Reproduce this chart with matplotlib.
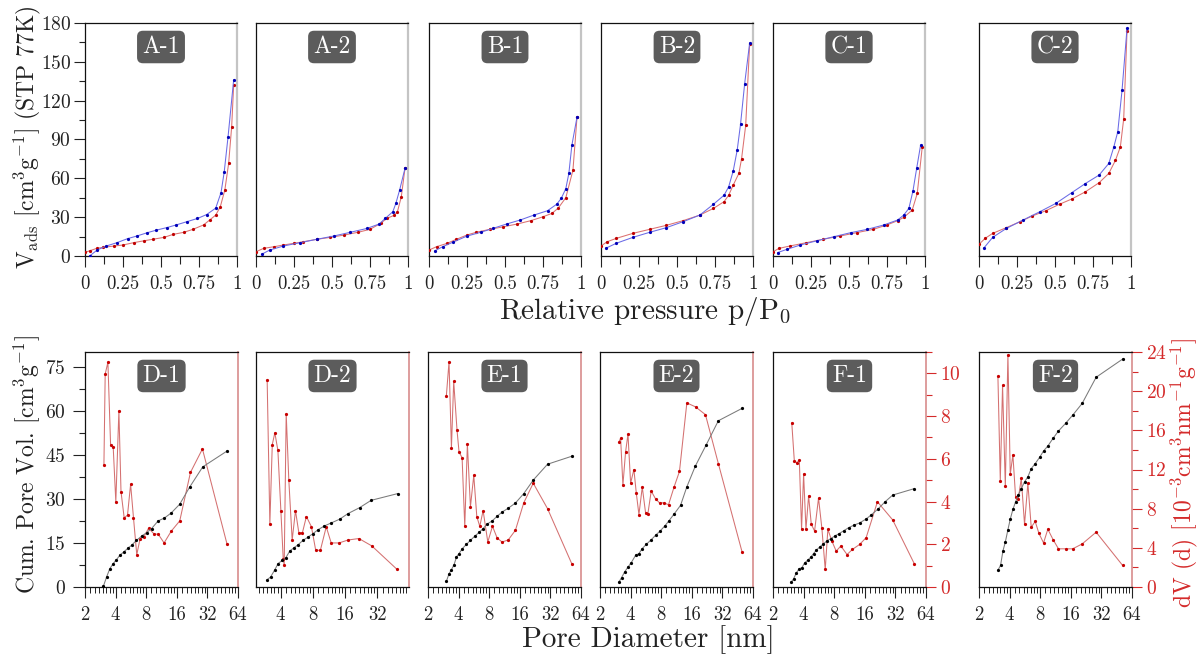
import numpy as np
import matplotlib
matplotlib.use('Agg')
import matplotlib.pyplot as plt
from matplotlib.ticker import MultipleLocator, FixedLocator, FixedFormatter, NullFormatter

plt.rcParams['font.family'] = ['cmr10', 'DejaVu Serif']
plt.rcParams['mathtext.fontset'] = 'cm'
plt.rcParams['axes.unicode_minus'] = False
plt.rcParams['axes.formatter.use_mathtext'] = True

# ---------------- isotherm data (relative pressure, V_ads) ----------------
panel_top = ['A-1', 'A-2', 'B-1', 'B-2', 'C-1', 'C-2']

A1_ads_p = [0, 0.03, 0.08, 0.12, 0.19, 0.25, 0.32, 0.39, 0.45, 0.52, 0.58, 0.65, 0.71, 0.78, 0.82, 0.86, 0.89, 0.92, 0.945, 0.965, 0.978]
A1_ads_v = [2.8, 4, 6, 6.7, 7.7, 8.5, 10.3, 11.8, 13, 14.4, 16.7, 18.3, 20.6, 24, 27.8, 31.6, 38, 51, 71.5, 100, 132]
A1_des_p = [0.03, 0.08, 0.14, 0.21, 0.28, 0.34, 0.41, 0.47, 0.54, 0.60, 0.67, 0.74, 0.80, 0.86, 0.895, 0.916, 0.941, 0.978]
A1_des_v = [0, 4.6, 7.7, 10.3, 13.4, 15.4, 18, 20, 22, 24, 26.5, 29, 32, 37, 49, 65, 92, 136]

A2_ads_p = [0, 0.05, 0.12, 0.18, 0.25, 0.31, 0.40, 0.49, 0.58, 0.67, 0.75, 0.82, 0.86, 0.91, 0.93, 0.956, 0.98]
A2_ads_v = [3.3, 5.9, 7.2, 8.5, 9.8, 11, 12.9, 14.4, 16.2, 18.3, 20.6, 25.2, 29, 31.5, 34, 45.8, 67.6]
A2_des_p = [0.04, 0.09, 0.18, 0.29, 0.40, 0.51, 0.62, 0.73, 0.81, 0.85, 0.90, 0.92, 0.945, 0.98]
A2_des_v = [1.5, 4.6, 7.7, 10.3, 12.9, 15.4, 18.3, 21.3, 24.7, 29, 34.2, 40.6, 51, 67.6]

B1_ads_p = [0, 0.05, 0.12, 0.18, 0.25, 0.31, 0.40, 0.49, 0.58, 0.67, 0.75, 0.81, 0.85, 0.90, 0.947, 0.974]
B1_ads_v = [4.6, 7.2, 9.8, 12.9, 16.2, 18.3, 20.6, 22.6, 24.7, 27.3, 30.3, 33, 37, 45, 66.3, 107.5]
B1_des_p = [0.04, 0.09, 0.16, 0.25, 0.34, 0.42, 0.51, 0.60, 0.69, 0.78, 0.84, 0.87, 0.90, 0.92, 0.94, 0.974]
B1_des_v = [4.1, 7.2, 10.8, 15.4, 18.3, 21.3, 24.7, 27.8, 31.6, 35, 40, 44.5, 52, 63.8, 85.6, 107.5]

B2_ads_p = [0, 0.04, 0.10, 0.21, 0.32, 0.43, 0.54, 0.65, 0.74, 0.81, 0.84, 0.87, 0.907, 0.925, 0.952, 0.978]
B2_ads_v = [7.7, 11, 13.6, 17.5, 20.6, 23.7, 27.3, 31.6, 36.8, 42, 47, 54.8, 63.8, 75.3, 101, 164]
B2_des_p = [0.03, 0.10, 0.21, 0.32, 0.43, 0.54, 0.65, 0.74, 0.81, 0.84, 0.87, 0.896, 0.918, 0.945, 0.978]
B2_des_v = [5.9, 9.8, 14.4, 18.3, 21.9, 26.5, 31.6, 40, 47, 53.5, 65.8, 81.8, 101.8, 133, 164.6]

C1_ads_p = [0, 0.04, 0.11, 0.22, 0.33, 0.44, 0.55, 0.66, 0.75, 0.82, 0.86, 0.916, 0.949, 0.982]
C1_ads_v = [3.3, 5.9, 7.7, 10.3, 12.9, 15.4, 18, 20.6, 24, 27.3, 29.8, 35.5, 48.3, 84.3]
C1_des_p = [0.03, 0.09, 0.18, 0.29, 0.40, 0.51, 0.62, 0.73, 0.82, 0.86, 0.894, 0.921, 0.945, 0.971]
C1_des_v = [2.6, 5.1, 8.5, 11.8, 14.9, 18, 20.6, 24, 27.8, 31.6, 36.8, 50.4, 67.6, 85.6]

C2_ads_p = [0, 0.04, 0.09, 0.18, 0.27, 0.35, 0.44, 0.53, 0.61, 0.70, 0.79, 0.854, 0.898, 0.93, 0.952, 0.974]
C2_ads_v = [9, 13.6, 17.5, 21.9, 26.5, 30.9, 35, 40, 44, 49.6, 56.6, 63.8, 74, 84.3, 106, 174]
C2_des_p = [0.03, 0.09, 0.18, 0.29, 0.40, 0.505, 0.61, 0.70, 0.79, 0.854, 0.887, 0.913, 0.941, 0.974]
C2_des_v = [5.9, 14.4, 21.3, 27.8, 34.2, 40.6, 48.9, 56, 62.5, 71.5, 84.3, 96, 128, 176]

# ---------------- pore size data (diameter nm, cum. volume, dV) ----------------
panel_bot = ['D-1', 'D-2', 'E-1', 'E-2', 'F-1', 'F-2']

D1_cum_d = [3.03, 3.26, 3.51, 3.79, 4.08, 4.40, 4.83, 5.33, 5.74, 6.42, 7.2, 8.07, 9.04, 10.48, 12.1, 14.1, 17.1, 21.4, 28.8, 50]
D1_cum_v = [0.2, 3.4, 6.25, 8, 9.3, 10.8, 12, 13.3, 14.2, 15.9, 17.3, 18.5, 19.9, 22.5, 23.5, 25.2, 28.2, 34, 40.9, 46.3]
D1_dv_d = [3.07, 3.16, 3.36, 3.57, 3.79, 4.02, 4.31, 4.52, 4.86, 5.24, 5.62, 6.0, 6.46, 6.97, 7.58, 8.44, 9.6, 10.5, 12.0, 14.1, 17.1, 21.8, 28.6, 50]
D1_dv = [8.3, 14.5, 15.3, 9.7, 9.5, 5.8, 12.0, 6.5, 4.7, 4.9, 7.0, 4.7, 2.2, 3.3, 3.4, 4.0, 3.6, 3.6, 3.0, 3.8, 4.5, 7.8, 9.4, 2.9]

D2_cum_d = [3.00, 3.23, 3.54, 3.80, 4.17, 4.49, 4.89, 5.32, 5.84, 6.50, 7.24, 8.06, 8.97, 10.3, 11.9, 14.3, 17.1, 21.9, 28.1, 49.8]
D2_cum_v = [2.5, 3.4, 5.9, 8, 9.1, 10, 12.3, 13.3, 14.4, 15.9, 17, 18.2, 19.5, 20.8, 21.8, 23.1, 25, 27, 29.5, 31.8]
D2_dv_d = [3.00, 3.18, 3.35, 3.54, 3.78, 4.03, 4.24, 4.33, 4.52, 4.78, 5.14, 5.52, 5.93, 6.41, 6.98, 7.78, 8.53, 9.43, 10.7, 11.9, 14.1, 17.1, 21.6, 28.5, 49.1]
D2_dv = [14.1, 4.3, 9.7, 10.5, 9.3, 5.2, 1.9, 1.5, 11.8, 7.3, 3.2, 5.2, 3.7, 3.7, 4.8, 4.1, 2.5, 2.5, 4.1, 3.0, 3.0, 3.2, 3.3, 2.8, 1.2]

E1_cum_d = [3.03, 3.22, 3.40, 3.61, 3.81, 4.04, 4.36, 4.77, 5.23, 5.77, 6.37, 6.97, 7.63, 8.62, 9.58, 10.8, 12.3, 14.5, 17.5, 21.7, 30.0, 51.8]
E1_cum_v = [1.9, 4.5, 5.9, 7.6, 10.2, 11.4, 13.1, 14.5, 15.9, 17.3, 18.6, 19.9, 21.4, 22.6, 24.1, 25.6, 26.8, 28.6, 31.8, 36.4, 41.8, 44.5]
E1_dv_d = [3.03, 3.22, 3.40, 3.58, 3.86, 4.04, 4.33, 4.60, 4.88, 5.23, 5.64, 6.04, 6.46, 6.97, 7.75, 8.62, 9.58, 10.7, 12.3, 14.5, 17.5, 21.7, 30.0, 51.8]
E1_dv = [9.75, 11.5, 7.1, 10.5, 8.0, 6.9, 6.6, 3.1, 7.3, 4.1, 5.7, 3.6, 3.1, 3.9, 2.3, 3.1, 2.5, 2.3, 2.4, 2.9, 4.3, 5.3, 4.0, 1.2]

E2_cum_d = [3.07, 3.26, 3.49, 3.77, 4.06, 4.48, 4.83, 5.21, 5.70, 6.38, 7.04, 7.82, 8.69, 9.51, 10.8, 12.4, 14.3, 17.3, 22.1, 29.2, 49.9]
E2_cum_v = [1.7, 3.2, 5.1, 6.8, 8.3, 10.8, 11.4, 13.1, 14.5, 16.1, 17.6, 19.1, 20.8, 22.5, 25, 27.8, 34.1, 41.1, 48.3, 56.6, 60.8]
E2_dv_d = [3.07, 3.19, 3.36, 3.57, 3.77, 4.0, 4.31, 4.55, 4.83, 5.21, 5.61, 5.92, 6.38, 7.04, 7.70, 8.50, 9.44, 10.7, 12.1, 14.3, 17.4, 21.8, 29.2, 49.9]
E2_dv = [7.4, 7.6, 5.2, 6.9, 7.8, 5.3, 6.0, 4.8, 3.7, 5.1, 3.8, 3.75, 4.9, 4.5, 4.3, 4.3, 4.2, 5.1, 5.9, 9.4, 9.2, 8.8, 6.3, 1.8]

F1_cum_d = [3.03, 3.19, 3.39, 3.63, 3.85, 4.09, 4.38, 4.72, 5.01, 5.33, 5.74, 6.19, 6.78, 7.42, 8.06, 8.96, 9.88, 11.1, 12.4, 14.2, 16.4, 18.3, 21.8, 25.3, 30.1, 49.2]
F1_cum_v = [1.7, 2.8, 4.8, 6.25, 6.6, 8.2, 9.1, 10.2, 11.4, 12.5, 13.6, 14.5, 15.7, 16.5, 17.3, 18.2, 19.1, 20.2, 21, 21.8, 23.1, 24.4, 26.7, 29, 31.3, 33.5]
F1_dv_d = [3.06, 3.24, 3.44, 3.63, 3.82, 4.0, 4.22, 4.48, 4.76, 5.13, 5.61, 6.05, 6.53, 6.93, 7.59, 8.37, 9.30, 10.7, 12.1, 14.2, 16.5, 21.3, 30.1, 49.2]
F1_dv = [7.68, 5.92, 5.81, 5.95, 2.70, 5.29, 2.70, 4.27, 2.94, 2.62, 4.16, 2.75, 0.82, 2.70, 2.15, 1.68, 1.92, 1.52, 1.76, 1.99, 2.31, 3.99, 3.14, 1.08]

F2_cum_d = [3.07, 3.26, 3.44, 3.63, 3.85, 4.06, 4.31, 4.58, 4.87, 5.21, 5.61, 6.05, 6.53, 7.14, 7.88, 8.63, 9.51, 10.7, 12.1, 14.2, 16.7, 20.7, 28.4, 51.8]
F2_cum_v = [5.7, 7.4, 12.3, 15.3, 19.5, 23.1, 26.4, 29, 31.3, 33.5, 35.8, 37.5, 40.3, 42, 44.1, 46.3, 48, 50.6, 53.1, 55.7, 58.5, 62.5, 71.4, 77.6]
F2_dv_d = [3.07, 3.24, 3.41, 3.63, 3.85, 4.06, 4.31, 4.58, 4.87, 5.21, 5.61, 6.05, 6.53, 7.14, 7.76, 8.63, 9.51, 10.7, 12.1, 14.2, 16.7, 20.7, 28.4, 51.8]
F2_dv = [21.5, 10.85, 20.6, 10.3, 23.7, 11.5, 13.5, 9.2, 9.0, 11.1, 6.4, 10.6, 6.1, 6.7, 5.5, 4.5, 5.9, 4.85, 3.9, 3.9, 3.9, 4.4, 5.6, 2.2]

dv_ymax = [16, 16, 12, 12, 11, 24]

x_ticks_top = [0, 0.25, 0.5, 0.75, 1]
x_ticklabels_top = ['0', '0.25', '0.5', '0.75', '1']
x_ticks_bot = [2, 4, 8, 16, 32, 64]

top_series = [
    (A1_ads_p, A1_ads_v, A1_des_p, A1_des_v),
    (A2_ads_p, A2_ads_v, A2_des_p, A2_des_v),
    (B1_ads_p, B1_ads_v, B1_des_p, B1_des_v),
    (B2_ads_p, B2_ads_v, B2_des_p, B2_des_v),
    (C1_ads_p, C1_ads_v, C1_des_p, C1_des_v),
    (C2_ads_p, C2_ads_v, C2_des_p, C2_des_v),
]
bot_series = [
    (D1_cum_d, D1_cum_v, D1_dv_d, D1_dv),
    (D2_cum_d, D2_cum_v, D2_dv_d, D2_dv),
    (E1_cum_d, E1_cum_v, E1_dv_d, E1_dv),
    (E2_cum_d, E2_cum_v, E2_dv_d, E2_dv),
    (F1_cum_d, F1_cum_v, F1_dv_d, F1_dv),
    (F2_cum_d, F2_cum_v, F2_dv_d, F2_dv),
]

# ---------------- layout (pixels) ----------------
W, H = 1201, 655
fig = plt.figure(figsize=(W / 100, H / 100), dpi=100)


def add_ax(l, t, w, h):
    return fig.add_axes([l / W, 1 - (t + h) / H, w / W, h / H])


top_lefts = [85, 256, 429, 601, 773, 979]
bot_lefts = [85, 256, 428, 600, 773, 979]
TXT = '#222222'
RED = '#d42a2a'
LABEL_BOX = dict(boxstyle='round,pad=0.22,rounding_size=0.25', fc='#5c5c5c', ec='none')
MS = 1.3
LW = 0.75

for i, (pa, va, pd, vd) in enumerate(top_series):
    ax = add_ax(top_lefts[i], 23, 152, 233)
    ax.plot(pa, va, color='#dc7070', lw=LW, marker='o', ms=MS, mfc='#c00000', mec='#c00000', zorder=3)
    ax.plot(pd, vd, color='#6a6ae6', lw=LW, marker='o', ms=MS, mfc='#0000b8', mec='#0000b8', zorder=4)
    ax.set_xlim(0, 1)
    ax.set_ylim(0, 180)
    ax.xaxis.set_major_locator(FixedLocator(x_ticks_top))
    ax.xaxis.set_major_formatter(FixedFormatter(x_ticklabels_top))
    ax.xaxis.set_minor_locator(MultipleLocator(0.125))
    ax.tick_params(axis='x', which='major', direction='out', length=8, width=0.8,
                   labelsize=13.5, pad=6, colors=TXT)
    ax.tick_params(axis='x', which='minor', direction='out', length=6, width=0.8, colors=TXT)
    if i == 0:
        ax.yaxis.set_major_locator(MultipleLocator(30))
        ax.yaxis.set_minor_locator(MultipleLocator(15))
        ax.tick_params(axis='y', which='major', direction='out', length=8, width=0.8,
                       labelsize=14, pad=2, colors=TXT)
        ax.tick_params(axis='y', which='minor', direction='out', length=4, width=0.8, colors=TXT)
    else:
        ax.tick_params(axis='y', which='both', left=False, labelleft=False)
    for s in ['left', 'top', 'bottom']:
        ax.spines[s].set_color('#111111')
        ax.spines[s].set_linewidth(0.9)
    ax.spines['right'].set_color('#c4c4c4')
    ax.spines['right'].set_linewidth(1.6)
    ax.text(0.5, 0.897, panel_top[i], transform=ax.transAxes, ha='center', va='center',
            color='white', fontsize=17, bbox=LABEL_BOX, zorder=10)

for i, (cd, cv, dd, dv) in enumerate(bot_series):
    ax = add_ax(bot_lefts[i], 352, 153, 235)
    ax.set_xscale('log', base=2)
    ax2 = ax.twinx()
    ax2.plot(dd, dv, color='#d47070', lw=LW, marker='o', ms=MS, mfc='#c80000', mec='#c80000', zorder=3)
    ax.plot(cd, cv, color='#7a7a7a', lw=LW, marker='o', ms=MS, mfc='black', mec='black', zorder=4)
    ax.set_zorder(ax2.get_zorder() + 1)
    ax.patch.set_visible(False)
    if i == 1:
        ax.set_xlim(2.36, 63.5)
        ax.xaxis.set_major_locator(FixedLocator([4, 8, 16, 32]))
    else:
        ax.set_xlim(2, 64)
        ax.xaxis.set_major_locator(FixedLocator(x_ticks_bot))
    ax.xaxis.set_major_formatter(matplotlib.ticker.FuncFormatter(lambda x, p: '%d' % round(x)))
    ax.xaxis.set_minor_locator(matplotlib.ticker.LogLocator(base=2, subs=np.arange(1.125, 2.0, 0.125), numticks=50))
    ax.xaxis.set_minor_formatter(NullFormatter())
    ax.tick_params(axis='x', which='major', direction='out', length=8, width=0.8,
                   labelsize=13.5, pad=6, colors=TXT)
    ax.tick_params(axis='x', which='minor', direction='out', length=4, width=0.7, colors=TXT)
    ax.set_ylim(0, 80)
    ax2.set_ylim(0, dv_ymax[i])
    if i == 0:
        ax.yaxis.set_major_locator(MultipleLocator(15))
        ax.yaxis.set_minor_locator(MultipleLocator(7.5))
        ax.tick_params(axis='y', which='major', direction='out', length=9, width=0.8,
                       labelsize=14, pad=5, colors=TXT)
        ax.tick_params(axis='y', which='minor', direction='out', length=4, width=0.8, colors=TXT)
    else:
        ax.tick_params(axis='y', which='both', left=False, labelleft=False)
    if i == 4:
        ax2.yaxis.set_major_locator(MultipleLocator(2))
        ax2.yaxis.set_minor_locator(MultipleLocator(1))
    elif i == 5:
        ax2.yaxis.set_major_locator(MultipleLocator(4))
        ax2.yaxis.set_minor_locator(MultipleLocator(2))
    if i >= 4:
        ax2.tick_params(axis='y', which='major', direction='out', length=7, width=0.8,
                        labelsize=14, pad=3, colors=RED)
        ax2.tick_params(axis='y', which='minor', direction='out', length=4, width=0.8, colors=RED)
    else:
        ax2.tick_params(axis='y', which='both', right=False, labelright=False)
    for s in ['left', 'top', 'bottom']:
        ax.spines[s].set_color('#111111')
        ax.spines[s].set_linewidth(0.9)
    ax.spines['right'].set_visible(False)
    for s in ['left', 'top', 'bottom']:
        ax2.spines[s].set_visible(False)
    ax2.spines['right'].set_color('#d88c8c')
    ax2.spines['right'].set_linewidth(1.2)
    ax.text(0.5, 0.898, panel_bot[i], transform=ax.transAxes, ha='center', va='center',
            color='white', fontsize=17, bbox=LABEL_BOX, zorder=10)

# ---------------- axis titles ----------------
fig.text(645 / W, 1 - 312 / H, r'Relative pressure p/P$_0$', ha='center', va='center',
         fontsize=21, color=TXT)
fig.text(648 / W, 1 - 640 / H, 'Pore Diameter [nm]', ha='center', va='center',
         fontsize=21, color=TXT)
fig.text(27 / W, 1 - 137 / H, r'V$_{\mathrm{ads}}$ [cm$^3$g$^{-1}$] (STP 77K)', ha='center',
         va='center', rotation=90, fontsize=17, color=TXT)
fig.text(27 / W, 1 - 465 / H, r'Cum. Pore Vol. [cm$^3$g$^{-1}$]', ha='center',
         va='center', rotation=90, fontsize=17, color=TXT)
fig.text(1184 / W, 1 - 473 / H, r'dV (d) [10$^{-3}$cm$^3$nm$^{-1}$g$^{-1}$]', ha='center',
         va='center', rotation=90, fontsize=17, color=RED)

fig.savefig('out.png', dpi=100)
